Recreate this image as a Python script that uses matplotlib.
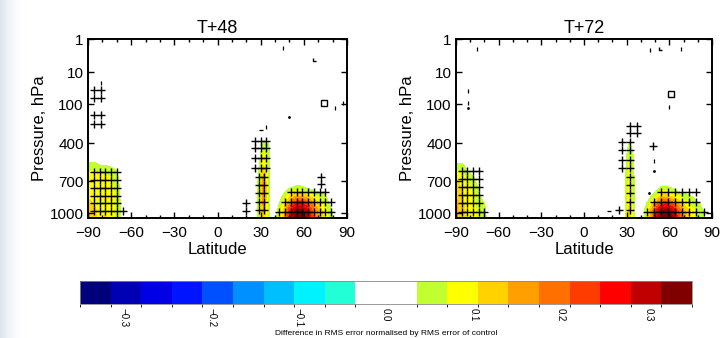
import numpy as np
import matplotlib
matplotlib.use("Agg")
import matplotlib.pyplot as plt
from matplotlib.colors import ListedColormap, BoundaryNorm, LinearSegmentedColormap
from matplotlib.cm import ScalarMappable
from matplotlib.path import Path

plt.rcParams["font.family"] = ["Liberation Sans", "DejaVu Sans"]

# ---- colour scale (20 bins of 0.035, two white bins round zero) ----
BOUNDS = np.linspace(-0.35, 0.35, 21)
COLOURS = [
    "#00007a", "#0000b4", "#0000e6", "#0014ff", "#0050ff", "#0090ff",
    "#00bfff", "#00f2ff", "#22ffd6", "#ffffff", "#ffffff", "#c2ff30",
    "#ffff00", "#ffd200", "#ffa000", "#ff7000", "#ff3c00", "#ff0000",
    "#c00000", "#800000",
]
CBAR_TICKS = [-0.3, -0.2, -0.1, 0.0, 0.1, 0.2, 0.3]
CBAR_LABELS = ["\u22120.3", "\u22120.2", "\u22120.1", "0.0", "0.1", "0.2", "0.3"]

# ---- vertical axis: pressure labels sit on model levels ----
P_TICKS = [1, 10, 100, 400, 700, 1000]
P_ANCH = [1, 10, 100, 400, 700, 1000, 1050]
Y_ANCH = [0, 33, 65, 104, 142, 174, 179]

LAT_TICKS = [-90, -60, -30, 0, 30, 60, 90]

# ---- field grid ----
FIELD_P = [1050, 977, 897, 825, 754, 690, 611, 545, 484, 430, 366, 300]
SOUTH_LAT = [-90, -86, -82, -78, -74, -70, -66, -62]
COLUMN_LAT = [26, 29, 32, 35]
NORTH_LAT = [38, 42, 46, 50, 54, 58, 62, 66, 70, 74, 78, 82, 86, 90]

# T+48 (rows from the surface upward)
SOUTH_48 = [
    [0.15, 0.12, 0.09, 0.11, 0.09, 0.06, 0.02, 0],
    [0.14, 0.12, 0.09, 0.10, 0.09, 0.06, 0.02, 0],
    [0.12, 0.10, 0.09, 0.09, 0.09, 0.06, 0.02, 0],
    [0.10, 0.09, 0.09, 0.09, 0.085, 0.06, 0.01, 0],
    [0.09, 0.09, 0.085, 0.085, 0.08, 0.055, 0.01, 0],
    [0.085, 0.085, 0.08, 0.08, 0.075, 0.05, 0, 0],
    [0.07, 0.075, 0.07, 0.065, 0.06, 0.04, 0, 0],
    [0.04, 0.045, 0.03, 0.03, 0.02, 0.01, 0, 0],
]
COLUMN_48 = [
    [0, 0.05, 0.12, 0.06],
    [0, 0.05, 0.14, 0.06],
    [0, 0.05, 0.16, 0.06],
    [0, 0.05, 0.17, 0.06],
    [0, 0.05, 0.18, 0.06],
    [0, 0.05, 0.16, 0.06],
    [0, 0.04, 0.13, 0.06],
    [0, 0.03, 0.10, 0.06],
    [0, 0.02, 0.08, 0.06],
    [0, 0.01, 0.06, 0.05],
    [0, 0, 0.02, 0.03],
]
NORTH_48 = [
    [0, 0.05, 0.12, 0.25, 0.33, 0.34, 0.30, 0.22, 0.15, 0.10, 0.06, 0.02, 0, 0],
    [0, 0.04, 0.11, 0.24, 0.32, 0.33, 0.29, 0.21, 0.14, 0.09, 0.05, 0.01, 0, 0],
    [0, 0.02, 0.08, 0.17, 0.24, 0.25, 0.22, 0.16, 0.11, 0.07, 0.03, 0, 0, 0],
    [0, 0, 0.045, 0.09, 0.13, 0.13, 0.11, 0.08, 0.06, 0.045, 0.01, 0, 0, 0],
    [0, 0, 0, 0.03, 0.045, 0.045, 0.03, 0.02, 0.01, 0, 0, 0, 0, 0],
]

# T+72
SOUTH_72 = [
    [0.15, 0.12, 0.095, 0.085, 0.06, 0.05, 0, 0],
    [0.15, 0.12, 0.095, 0.085, 0.06, 0.045, 0, 0],
    [0.15, 0.115, 0.09, 0.08, 0.05, 0.035, 0, 0],
    [0.14, 0.11, 0.085, 0.07, 0.04, 0.01, 0, 0],
    [0.13, 0.10, 0.08, 0.06, 0.03, 0, 0, 0],
    [0.11, 0.09, 0.07, 0.05, 0.01, 0, 0, 0],
    [0.08, 0.07, 0.04, 0.02, 0, 0, 0, 0],
    [0.04, 0.04, 0.01, 0, 0, 0, 0, 0],
]
COLUMN_72 = [
    [0, 0.03, 0.14, 0.04],
    [0, 0.03, 0.13, 0.04],
    [0, 0.03, 0.11, 0.04],
    [0, 0.03, 0.10, 0.04],
    [0, 0.03, 0.10, 0.04],
    [0, 0.03, 0.09, 0.04],
    [0, 0.03, 0.09, 0.035],
    [0, 0.02, 0.08, 0.03],
    [0, 0.02, 0.07, 0.03],
    [0, 0.01, 0.05, 0.02],
    [0, 0, 0.02, 0.01],
]
NORTH_72 = [
    [0, 0.03, 0.12, 0.24, 0.33, 0.34, 0.32, 0.24, 0.16, 0.11, 0.08, 0.05, 0.03, 0],
    [0, 0.03, 0.11, 0.23, 0.32, 0.33, 0.30, 0.22, 0.15, 0.10, 0.07, 0.05, 0.02, 0],
    [0, 0.01, 0.06, 0.15, 0.22, 0.24, 0.20, 0.14, 0.10, 0.07, 0.05, 0.03, 0, 0],
    [0, 0, 0.02, 0.06, 0.11, 0.12, 0.09, 0.07, 0.05, 0.04, 0.02, 0, 0, 0],
    [0, 0, 0, 0.01, 0.04, 0.045, 0.03, 0.01, 0, 0, 0, 0, 0, 0],
]

# ---- significance crosses: (latitudes, pressures) blocks ----
SIG_48 = [
    ([-86, -82, -78, -74, -70], [611, 690, 754, 825, 897, 977]),
    ([-66], [977]),
    ([-86, -81], [36, 65]),
    ([-86, -81], [148, 205]),
    ([26, 30, 34], [366, 430, 500, 575]),
    ([28.5, 32.5], [657, 731, 800, 880, 967]),
    ([20], [897, 977]),
    ([51, 55, 59, 63, 67, 71, 75], [790]),
    ([47, 51, 55, 59, 63, 67, 71, 75, 79], [880]),
    ([43, 47, 51, 55, 59, 63, 67, 71, 75, 79], [985]),
    ([72], [660, 725]),
]
SIG_72 = [
    ([-86, -82, -78, -74], [600, 675, 750, 820, 897, 985]),
    ([-70], [985]),
    ([32, 37.5], [215, 280]),
    ([27, 32], [380, 445, 515, 580]),
    ([32.4], [657, 731, 800, 880, 967]),
    ([24.8], [967]),
    ([54, 59, 64, 69, 74, 79], [788]),
    ([49, 54, 59, 64, 69, 74, 79], [880]),
    ([44, 49, 54, 59, 64, 69, 74, 79, 84], [985]),
    ([48.5], [420]),
]
# isolated fragments: (lat, p, marker)
FRAG_48 = [
    (-81, 22, "|"), (74, 92, "s"), (82, 115, "|"), (87, 95, "|"),
    (45.5, 1.9, "|"), (49.5, 160, "."), (66.5, 4.5, "L"), (30, 250, "_"), (34, 230, "|"),
]
FRAG_72 = [
    (-81.5, 40, "|"), (-81.5, 90, "|"), (-81.5, 115, "."), (-75.5, 2, "|"),
    (46.5, 2.2, "|"), (53, 2.2, "L"), (68.5, 2.0, "|"), (61, 48, "s"), (59.5, 110, "|"),
    (49.5, 520, "|"), (49.5, 600, "."), (17.6, 977, "_"), (46, 800, "."),
]

L_MARK = Path([(0, 1), (0, 0), (1, 0)], [Path.MOVETO, Path.LINETO, Path.LINETO])


def p_forward(p):
    p = np.clip(np.asarray(p, float), 0.5, 2000)
    return np.interp(np.log10(p), np.log10(P_ANCH), Y_ANCH)


def p_inverse(y):
    return 10 ** np.interp(np.asarray(y, float), Y_ANCH, np.log10(P_ANCH))


def assemble(south, column, north):
    blocks = []
    for b in (south, column, north):
        b = np.asarray(b, float)
        pad = np.zeros((len(FIELD_P) - b.shape[0], b.shape[1]))
        blocks.append(np.vstack([b, pad]))
    return np.hstack(blocks)


def draw_panel(ax, title, field, sig, frags, cmap, norm):
    lats = SOUTH_LAT + COLUMN_LAT + NORTH_LAT
    ax.set_yscale("function", functions=(p_forward, p_inverse))
    ax.contourf(lats, FIELD_P, field, levels=BOUNDS, cmap=cmap, norm=norm)

    for blat, bp in sig:
        gx, gy = np.meshgrid(blat, bp)
        ax.plot(gx.ravel(), gy.ravel(), ls="none", marker="+", ms=6.2,
                mew=1.0, color="black", zorder=4)
    for lat, p, mk in frags:
        if mk == "L":
            ax.plot([lat], [p], ls="none", marker=L_MARK, ms=4, mfc="none",
                    mec="black", mew=1.0, zorder=4)
        elif mk == "s":
            ax.plot([lat], [p], ls="none", marker="s", ms=4.5, mfc="none",
                    mec="black", mew=1.0, zorder=4)
        elif mk == ".":
            ax.plot([lat], [p], ls="none", marker=".", ms=2, color="black",
                    zorder=4)
        else:
            ax.plot([lat], [p], ls="none", marker=mk, ms=3, color="black",
                    mew=0.9, zorder=4)

    ax.set_xlim(-90, 90)
    ax.set_ylim(1050, 1)
    ax.set_xticks(LAT_TICKS)
    ax.set_xticks(np.arange(-90, 91, 10), minor=True)
    ax.set_yticks(P_TICKS)
    ax.set_yticklabels([str(p) for p in P_TICKS])
    ax.yaxis.set_minor_locator(matplotlib.ticker.NullLocator())
    ax.tick_params(which="both", direction="in", top=True, right=True,
                   labelsize=11, width=1.0)
    ax.tick_params(which="major", length=4)
    ax.tick_params(which="minor", length=2)
    ax.tick_params(axis="x", pad=6)
    ax.tick_params(axis="y", pad=3)
    for s in ax.spines.values():
        s.set_linewidth(1.4)
    ax.set_title(title, fontsize=13, pad=4)
    ax.set_xlabel("Latitude", fontsize=12, labelpad=1)
    ax.set_ylabel("Pressure, hPa", fontsize=12, labelpad=2)


def main():
    cmap = ListedColormap(COLOURS)
    norm = BoundaryNorm(BOUNDS, cmap.N)

    fig = plt.figure(figsize=(7.22, 3.38), dpi=100)

    # faint slide background along the left edge
    bg = fig.add_axes([0, 0, 1, 1], zorder=-5)
    edge = LinearSegmentedColormap.from_list("edge", ["#ffffff", "#dce4ee"])
    bg.imshow(np.linspace(0, 1, 60)[None, ::-1] ** 2, extent=[0, 0.035, 0, 1],
              aspect="auto", cmap=edge)
    bg.set_xlim(0, 1)
    bg.set_ylim(0, 1)
    bg.axis("off")

    ax1 = fig.add_axes([0.1219, 0.355, 0.3587, 0.5296])
    ax2 = fig.add_axes([0.6316, 0.355, 0.3546, 0.5296])

    draw_panel(ax1, "T+48", assemble(SOUTH_48, COLUMN_48, NORTH_48),
               SIG_48, FRAG_48, cmap, norm)
    draw_panel(ax2, "T+72", assemble(SOUTH_72, COLUMN_72, NORTH_72),
               SIG_72, FRAG_72, cmap, norm)

    cax = fig.add_axes([0.1108, 0.1006, 0.8476, 0.068])
    cb = fig.colorbar(ScalarMappable(norm=norm, cmap=cmap), cax=cax,
                      orientation="horizontal", ticks=CBAR_TICKS)
    cb.ax.set_xticklabels(CBAR_LABELS, rotation=270, fontsize=7)
    cb.ax.tick_params(length=0, pad=3)
    cb.outline.set_linewidth(0.6)
    cb.outline.set_edgecolor("#888888")
    cb.set_label("Difference in RMS error normalised by RMS error of control",
                 fontsize=6, labelpad=2)

    fig.savefig("out.png", dpi=100)


if __name__ == "__main__":
    main()
